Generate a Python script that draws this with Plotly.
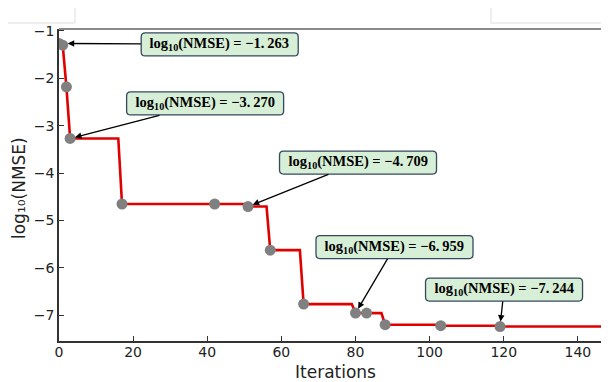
import plotly.graph_objects as go

# sampled evaluation points (gray markers)
pt_iter = [0, 1, 2, 3, 17, 42, 51, 57, 66, 80, 83, 88, 103, 119]
pt_val = [-1.263, -1.30, -2.18, -3.270, -4.655, -4.655, -4.709, -5.63, -6.77,
          -6.959, -6.96, -7.205, -7.226, -7.244]

# best-so-far curve breakpoints (red line)
best_iter = [0, 1, 2, 3, 16, 17, 50, 51, 56, 57, 65, 66, 79, 80, 87, 88, 102, 103, 118, 119, 150]
best_val = [-1.263, -1.30, -2.18, -3.270, -3.270, -4.655, -4.655, -4.709, -4.709, -5.63,
            -5.63, -6.77, -6.77, -6.959, -6.96, -7.205, -7.205, -7.226, -7.226, -7.244, -7.244]

# annotated points
ann_iter = [1, 3, 51, 80, 119]
ann_val = [-1.263, -3.270, -4.709, -6.959, -7.244]
ann_text = ["−1.&#8201;263", "−3.&#8201;270", "−4.&#8201;709", "−6.&#8201;959", "−7.&#8201;244"]
ann_ax = [157, 135, 110, 39, 4]
ann_ay = [1, -35, -44, -66, -37]

x_ticks = [0, 20, 40, 60, 80, 100, 120, 140]
y_ticks = [-1, -2, -3, -4, -5, -6, -7]

fig = go.Figure()
fig.add_trace(go.Scatter(x=best_iter, y=best_val, mode="lines",
                         line=dict(color="#e00000", width=2.6), showlegend=False))
fig.add_trace(go.Scatter(x=pt_iter, y=pt_val, mode="markers",
                         marker=dict(color="#808080", size=11), showlegend=False))


def rounded_box(cx, cy, w, h, r):
    return (f"M {cx-w+r},{cy-h} L {cx+w-r},{cy-h} Q {cx+w},{cy-h} {cx+w},{cy-h+r} "
            f"L {cx+w},{cy+h-r} Q {cx+w},{cy+h} {cx+w-r},{cy+h} "
            f"L {cx-w+r},{cy+h} Q {cx-w},{cy+h} {cx-w},{cy+h-r} "
            f"L {cx-w},{cy-h+r} Q {cx-w},{cy-h} {cx-w+r},{cy-h} Z")


shapes = []
for xi, yi, t, ax, ay in zip(ann_iter, ann_val, ann_text, ann_ax, ann_ay):
    shapes.append(dict(type="path", xref="x", yref="y", xsizemode="pixel", ysizemode="pixel",
                       xanchor=xi, yanchor=yi, path=rounded_box(ax, -ay, 78.5, 11.5, 4),
                       fillcolor="#d6efd6", line=dict(color="#34495e", width=1.3),
                       layer="above"))
    fig.add_annotation(
        x=xi, y=yi, ax=ax, ay=ay, xref="x", yref="y",
        text=f"<b>log<sub>10</sub>(NMSE) = {t}</b>",
        font=dict(family="Liberation Serif", size=14.5, color="black"),
        showarrow=True, arrowhead=2, arrowsize=1, arrowwidth=1.3, arrowcolor="black",
        standoff=5, borderpad=2, borderwidth=1.3, bordercolor="rgba(0,0,0,0)",
        width=152, height=18, align="center", valign="middle",
    )

# page body has an 8px margin, so the figure is drawn at (8, 8) in the window
OFF = 8
W, H = 609 - OFF, 382 - OFF
L, T, B = 59 - OFF, 29 - OFF, 41
pw, ph = W - L, H - T - B


def px(xp):  # window pixel -> paper x
    return (xp - OFF - L) / pw


def py(yp):  # window pixel -> paper y
    return (H - B - (yp - OFF)) / ph


# axis titles as paper annotations
fig.add_annotation(x=px(335), y=py(372), xref="paper", yref="paper", showarrow=False,
                   text="Iterations", font=dict(family="DejaVu Sans", size=17, color="#222"),
                   xanchor="center", yanchor="middle")
fig.add_annotation(x=px(19), y=py(188), xref="paper", yref="paper", showarrow=False,
                   text="log₁₀(NMSE)", textangle=-90,
                   font=dict(family="DejaVu Sans", size=17, color="#222"),
                   xanchor="center", yanchor="middle")

shapes += [
    # top spine (grey)
    dict(type="line", xref="paper", yref="paper", x0=0, x1=1, y0=1, y1=1,
         line=dict(color="#8a8a8a", width=2)),
    # artifact boxes at top
    dict(type="rect", xref="paper", yref="paper", x0=px(-5), x1=px(75), y0=py(23), y1=py(-5),
         line=dict(color="#dddddd", width=1), fillcolor="white"),
    dict(type="rect", xref="paper", yref="paper", x0=px(491), x1=px(615), y0=py(23), y1=py(4),
         line=dict(color="#dddddd", width=1), fillcolor="white"),
]

fig.update_layout(
    width=W, height=H, margin=dict(l=L, r=0, t=T, b=B, autoexpand=False),
    plot_bgcolor="white", paper_bgcolor="white",
    font=dict(family="DejaVu Sans", color="#222222"),
    shapes=shapes,
    xaxis=dict(range=[0, 148.4], tickvals=x_ticks, ticks="inside", ticklen=5, tickwidth=1.2,
               tickcolor="#333", showgrid=False, zeroline=False, showline=True,
               linecolor="#333", linewidth=1.5, tickfont=dict(size=14), automargin=False,
               ticklabelstandoff=-3),
    yaxis=dict(range=[-7.549, -0.958], tickvals=y_ticks, ticks="inside", ticklen=5, tickwidth=1.2,
               tickcolor="#333", showgrid=False, zeroline=False, showline=True,
               linecolor="#333", linewidth=1.5, tickfont=dict(size=14), automargin=False),
)

fig.write_html("out.html")
